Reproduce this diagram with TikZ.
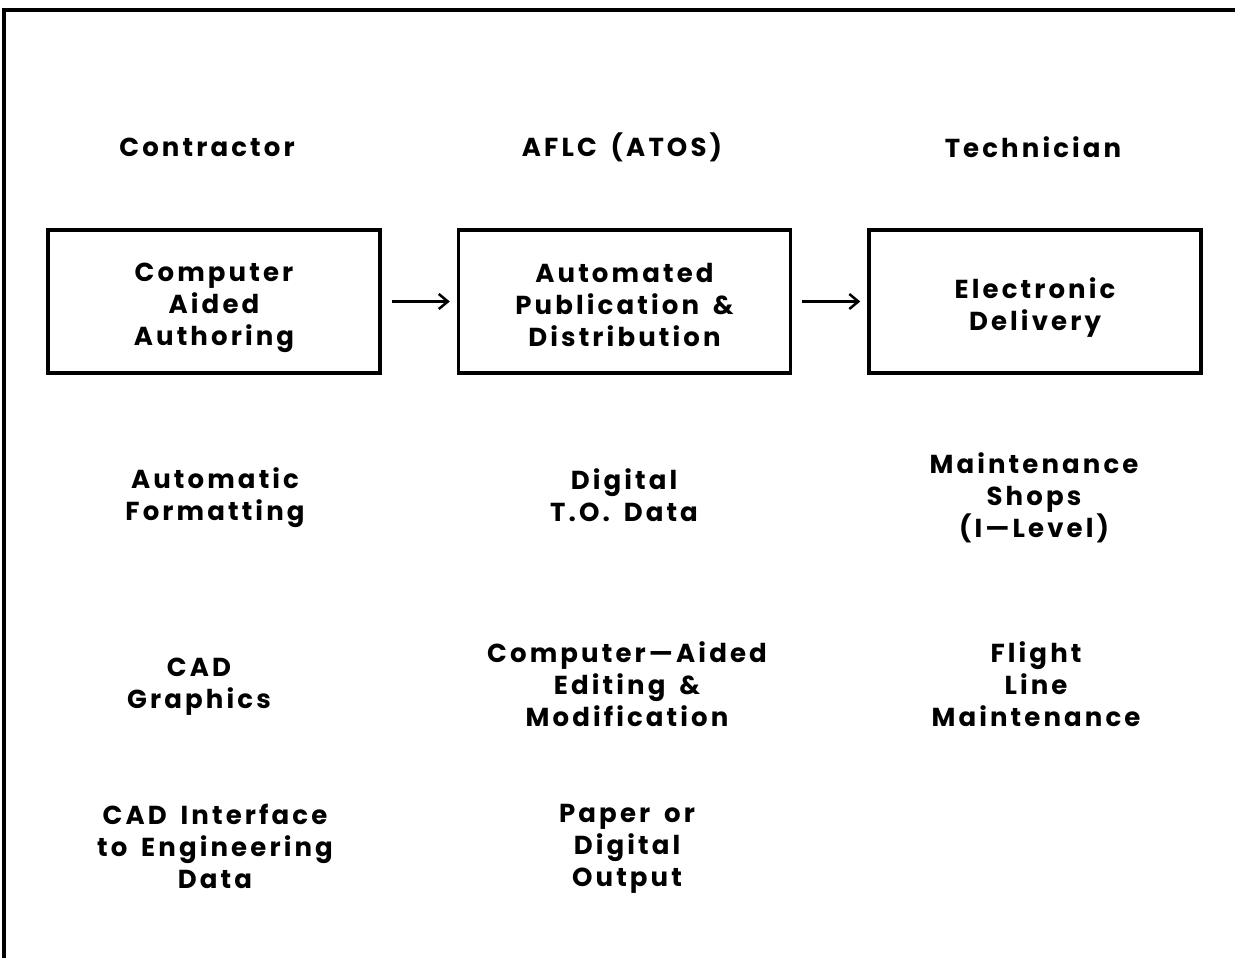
\documentclass[tikz,border=0pt]{standalone}
\usepackage{fontspec}
\setmainfont{Poppins}[LetterSpace=12,WordSpace=1.6]
\usetikzlibrary{arrows.meta}
\newcommand{\myfonttext}{\fontsize{26}{32}\selectfont\bfseries}
\begin{document}
\begin{tikzpicture}[x=1pt,y=-1pt,
	box/.style={draw,line width=3.5pt,minimum width=332pt,minimum height=143pt,inner sep=0pt},
	flow/.style={line width=2.5pt,-{Straight Barb[length=9pt,width=15pt,line width=2.5pt]},shorten <=10pt,shorten >=7pt},
	txt/.style={align=center,inner sep=0pt,font=\myfonttext}]
	\useasboundingbox (0,0) rectangle (1235,958);
	%Outer frame (left and top)
	\coordinate (frameBottom) at (4,958);
	\coordinate (frameCorner) at (4,10);
	\coordinate (frameRight) at (1235,10);
	\draw[line width=3.5pt] (frameBottom) -- (frameCorner) -- (frameRight);
	%Column heads
	\node [txt] (headC) at (207,147) {Contractor};
	\node [txt] (headA) at (622,147) {AFLC (ATOS)};
	\node [txt] (headT) at (1033,147) {Technician};
	%The three boxes
	\node [box,txt] (author) at (214,301.5) {};
	\node [box,txt] (publish) at (624.5,301.5) {};
	\node [box,txt] (deliver) at (1035,301.5) {};
	\node [txt] (authorText) at (214,308) {Computer\\Aided\\Authoring};
	\node [txt] (publishText) at (624.5,305) {Automated\\Publication \&\\Distribution};
	\node [txt] (deliverText) at (1035,308) {Electronic\\Delivery};
	%Arrows between the boxes
	\draw [flow] (author) -- (publish);
	\draw [flow] (publish) -- (deliver);
	%Contractor column
	\node [txt] (formatting) at (215,498) {Automatic\\Formatting};
	\node [txt] (graphics) at (199,687) {CAD\\Graphics};
	\node [txt] (interface) at (215,846) {CAD Interface\\to Engineering\\Data};
	%AFLC column
	\node [txt] (todata) at (624,495) {Digital\\T.O. Data};
	\node [txt] (editing) at (627,684) {Computer---Aided\\Editing \&\\Modification};
	\node [txt] (output) at (627,849) {Paper or\\Digital\\Output};
	%Technician column
	\node [txt] (shops) at (1034,498) {Maintenance\\Shops\\(I---Level)};
	\node [txt] (flightline) at (1036,684) {Flight\\Line\\Maintenance};
\end{tikzpicture}
\end{document}
